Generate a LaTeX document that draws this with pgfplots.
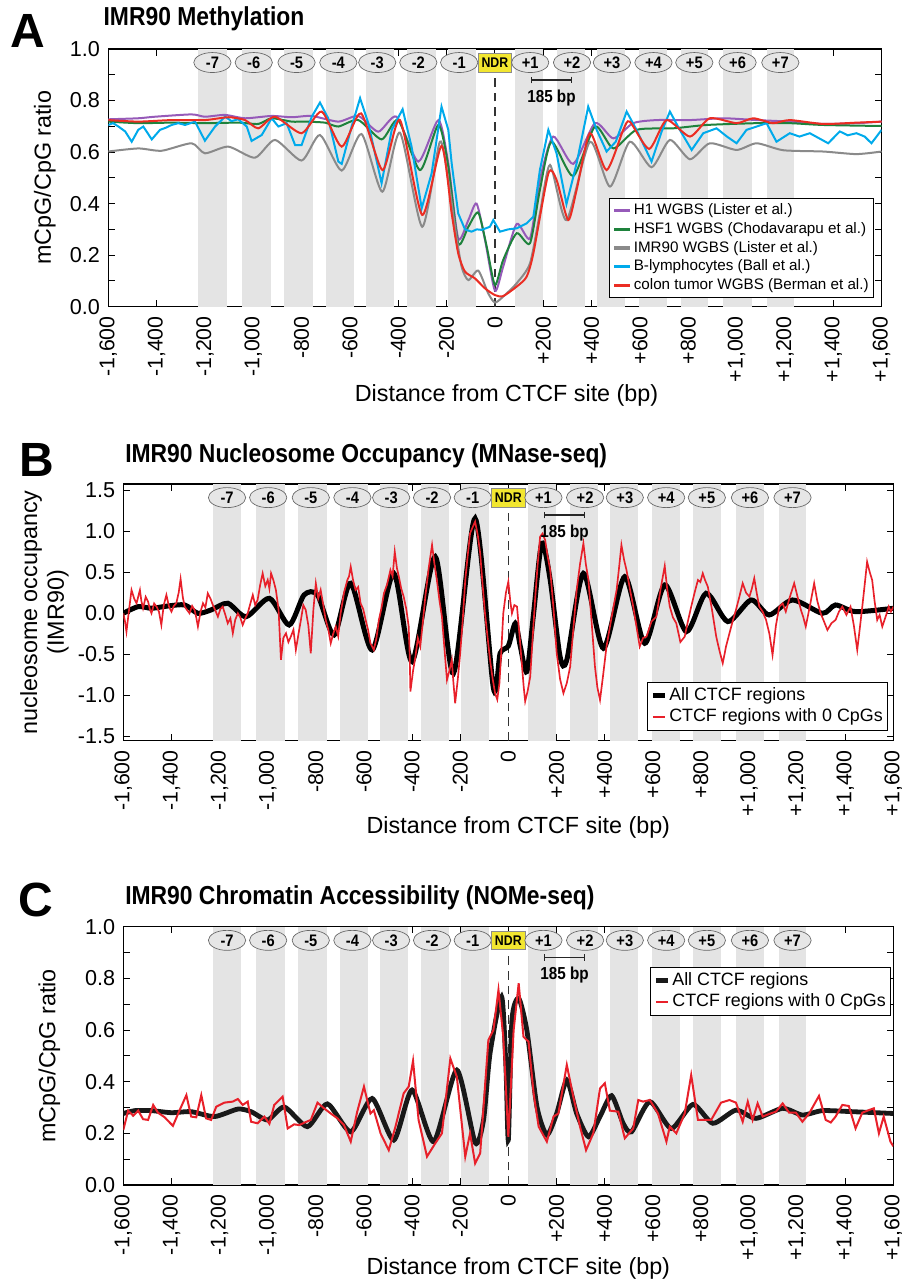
\documentclass[border=0pt]{standalone}
\usepackage{fontspec}
\setmainfont{Liberation Sans}
\newfontfamily\condfont[FakeStretch=0.88]{Liberation Sans}
\usepackage{pgfplots}
\pgfplotsset{compat=1.18}
\usetikzlibrary{shapes.geometric,arrows.meta}

\definecolor{cH}{HTML}{965AB9}
\definecolor{cG}{HTML}{1E823C}
\definecolor{cI}{HTML}{8A8A8A}
\definecolor{cB}{HTML}{00AAEB}
\definecolor{cR}{HTML}{EB2D23}
\definecolor{cR2}{HTML}{E8202A}
\definecolor{stripe}{HTML}{E4E4E4}
\definecolor{nucfill}{HTML}{E6E6E6}
\definecolor{ndry}{HTML}{F2E630}

\tikzset{
 nuc/.style={ellipse, draw=black!60, fill=nucfill, line width=0.5pt, minimum width=28pt, minimum height=15pt, inner sep=0pt, font=\condfont\bfseries\fontsize{12.5}{13}\selectfont},
 ndr/.style={rectangle, draw=black!45, fill=ndry, line width=0.5pt, minimum width=25pt, minimum height=14pt, inner sep=0pt, font=\condfont\bfseries\fontsize{10.5}{11}\selectfont},
}

\newcommand{\decor}{%
 \fill[stripe] (axis cs:-1227,\ymn) rectangle (axis cs:-1110,\ymx);
 \fill[stripe] (axis cs:-1048,\ymn) rectangle (axis cs:-928,\ymx);
 \fill[stripe] (axis cs:-873,\ymn) rectangle (axis cs:-754,\ymx);
 \fill[stripe] (axis cs:-699,\ymn) rectangle (axis cs:-582,\ymx);
 \fill[stripe] (axis cs:-534,\ymn) rectangle (axis cs:-416,\ymx);
 \fill[stripe] (axis cs:-363,\ymn) rectangle (axis cs:-245,\ymx);
 \fill[stripe] (axis cs:-196,\ymn) rectangle (axis cs:-79,\ymx);
 \fill[stripe] (axis cs:83,\ymn) rectangle (axis cs:200,\ymx);
 \fill[stripe] (axis cs:255,\ymn) rectangle (axis cs:372,\ymx);
 \fill[stripe] (axis cs:421,\ymn) rectangle (axis cs:538,\ymx);
 \fill[stripe] (axis cs:596,\ymn) rectangle (axis cs:713,\ymx);
 \fill[stripe] (axis cs:769,\ymn) rectangle (axis cs:883,\ymx);
 \fill[stripe] (axis cs:945,\ymn) rectangle (axis cs:1062,\ymx);
 \fill[stripe] (axis cs:1124,\ymn) rectangle (axis cs:1238,\ymx);
 \draw[dash pattern=on 6.5pt off 4.5pt, line width=0.9pt, black!80] (axis cs:0,\ymn) -- ([yshift=-22pt]axis cs:0,\ymx);
}
\newcommand{\decortop}{%
 \node[nuc] at ([yshift=-10.2pt]axis cs:-1169,\ymx) {-7};
 \node[nuc] at ([yshift=-10.2pt]axis cs:-998,\ymx) {-6};
 \node[nuc] at ([yshift=-10.2pt]axis cs:-821,\ymx) {-5};
 \node[nuc] at ([yshift=-10.2pt]axis cs:-648,\ymx) {-4};
 \node[nuc] at ([yshift=-10.2pt]axis cs:-487,\ymx) {-3};
 \node[nuc] at ([yshift=-10.2pt]axis cs:-317,\ymx) {-2};
 \node[nuc] at ([yshift=-10.2pt]axis cs:-148,\ymx) {-1};
 \node[ndr] at ([yshift=-10.2pt]axis cs:0,\ymx) {NDR};
 \node[nuc] at ([yshift=-10.2pt]axis cs:146,\ymx) {+1};
 \node[nuc] at ([yshift=-10.2pt]axis cs:319,\ymx) {+2};
 \node[nuc] at ([yshift=-10.2pt]axis cs:484,\ymx) {+3};
 \node[nuc] at ([yshift=-10.2pt]axis cs:656,\ymx) {+4};
 \node[nuc] at ([yshift=-10.2pt]axis cs:825,\ymx) {+5};
 \node[nuc] at ([yshift=-10.2pt]axis cs:1004,\ymx) {+6};
 \node[nuc] at ([yshift=-10.2pt]axis cs:1181,\ymx) {+7};
 \draw[{Bar[width=5pt]}-{Bar[width=5pt]}, line width=0.9pt, black!85] ([yshift=-23.3pt]axis cs:149,\ymx) -- ([yshift=-23.3pt]axis cs:318,\ymx);
 \node[font=\condfont\bfseries\fontsize{13}{14}\selectfont] at ([yshift=-36.5pt]axis cs:234,\ymx) {185 bp};
}

\pgfplotsset{
 myax/.style={
  scale only axis,
  xmin=-1600, xmax=1600,
  xtick={-1600,-1400,-1200,-1000,-800,-600,-400,-200,0,200,400,600,800,1000,1200,1400,1600},
  xticklabels={{-1,600},{-1,400},{-1,200},{-1,000},{-800},{-600},{-400},{-200},{0},{+200},{+400},{+600},{+800},{+1,000},{+1,200},{+1,400},{+1,600}},
  xticklabel style={rotate=90, anchor=east, inner sep=0pt, font=\fontsize{16}{18}\selectfont},
  xticklabel shift=7pt,
  yticklabel style={anchor=east, inner sep=0pt, font=\fontsize{16.2}{18}\selectfont},
  yticklabel shift=6pt,
  tick align=inside, tick pos=both,
  major tick length=5pt, minor tick length=5pt,
  every tick/.style={black, line width=0.7pt},
  axis line style={black, line width=0.9pt},
  xlabel={Distance from CTCF site (bp)},
  xlabel style={anchor=center, font=\fontsize{17.5}{20}\selectfont},
  ylabel style={anchor=center, font=\fontsize{17.5}{20}\selectfont, align=center},
  clip=true,
 },
 legA/.style={legend cell align=left,
  legend style={at={(0.990,0.034)}, anchor=south east, draw=black, line width=0.8pt, fill=white,
   font=\fontsize{11.4}{13}\selectfont, inner sep=2pt, row sep=0pt,
   nodes={inner sep=1.5pt, text height=8.5pt, text depth=2.5pt}},
  legend image code/.code={\draw[##1, line width=2.5pt] (0pt,0pt) -- (12pt,0pt);}},
 legBC/.style={legend cell align=left,
  legend style={draw=black, line width=0.8pt, fill=white,
   font=\fontsize{13.4}{15}\selectfont, inner sep=2pt, row sep=0pt,
   nodes={inner sep=1.5pt, text height=10pt, text depth=3pt}},
  legend image code/.code={\draw[##1] (0pt,0pt) -- (9pt,0pt);}},
}

\begin{document}
\begin{tikzpicture}
\useasboundingbox (0,0) rectangle (678pt,-962.25pt);

% ---------------- Panel A ----------------
\node[font=\bfseries\fontsize{36}{40}\selectfont] at (21pt,-23.5pt) {A};
\node[anchor=west, inner sep=0pt, font=\condfont\bfseries\fontsize{19.5}{22}\selectfont] at (77.5pt,-14.25pt) {IMR90 Methylation};
\def\ymn{0}\def\ymx{1}
\begin{axis}[myax, legA, at={(81.2pt,-230pt)}, anchor=south west, width=580pt, height=193.3pt,
 ymin=0, ymax=1, ytick={0,0.2,0.4,0.6,0.8,1.0}, yticklabels={0.0,0.2,0.4,0.6,0.8,1.0},
 minor ytick={0.1,0.3,0.5,0.7,0.9},
 ylabel={mCpG/CpG ratio}, ylabel style={at={(axis description cs:-0.082,0.5)}},
 xlabel style={at={(axis description cs:0.515,-0.345)}}]
\decor
\addplot[cH, line width=1.5pt, smooth, tension=0.4] coordinates {(-1600,0.727) (-1476,0.731) (-1407,0.737) (-1255,0.746) (-1200,0.737) (-1117,0.744) (-1034,0.731) (-924,0.740) (-841,0.735) (-758,0.740) (-648,0.718) (-565,0.740) (-483,0.679) (-407,0.737) (-317,0.563) (-234,0.724) (-193,0.556) (-152,0.265) (-110,0.336) (-76,0.400) (-41,0.259) (0,0.062) (34,0.155) (90,0.321) (145,0.265) (186,0.492) (241,0.660) (324,0.554) (414,0.712) (490,0.653) (572,0.712) (669,0.724) (807,0.724) (945,0.731) (1083,0.724) (1220,0.718) (1358,0.709) (1496,0.712) (1600,0.718)};
\addlegendentry{H1 WGBS (Lister et al.)}
\addplot[cG, line width=1.5pt, smooth, tension=0.4] coordinates {(-1600,0.718) (-1476,0.712) (-1338,0.714) (-1200,0.712) (-1062,0.714) (-979,0.709) (-924,0.731) (-841,0.718) (-786,0.718) (-703,0.714) (-648,0.699) (-565,0.724) (-469,0.649) (-400,0.724) (-310,0.530) (-234,0.705) (-193,0.543) (-152,0.246) (-110,0.310) (-69,0.365) (-34,0.233) (0,0.084) (34,0.181) (90,0.285) (145,0.246) (186,0.453) (234,0.640) (324,0.507) (414,0.699) (490,0.614) (586,0.686) (738,0.692) (876,0.705) (1083,0.712) (1220,0.712) (1358,0.705) (1600,0.701)};
\addlegendentry{HSF1 WGBS (Chodavarapu et al.)}
\addplot[cI, line width=1.5pt, smooth, tension=0.4] coordinates {(-1600,0.602) (-1476,0.614) (-1379,0.605) (-1255,0.634) (-1200,0.595) (-1103,0.621) (-993,0.578) (-910,0.647) (-800,0.567) (-724,0.666) (-634,0.528) (-552,0.670) (-466,0.446) (-393,0.675) (-301,0.310) (-228,0.640) (-193,0.492) (-165,0.310) (-138,0.155) (-110,0.103) (-69,0.140) (-28,0.052) (0,0.016) (34,0.039) (90,0.091) (145,0.168) (186,0.362) (228,0.550) (296,0.336) (393,0.640) (476,0.466) (558,0.640) (648,0.541) (724,0.647) (807,0.572) (889,0.634) (1000,0.608) (1083,0.634) (1193,0.607) (1358,0.602) (1496,0.592) (1600,0.602)};
\addlegendentry{IMR90 WGBS (Lister et al.)}
\addplot[cB, line width=1.5pt] coordinates {(-1600,0.705) (-1580,0.712) (-1558,0.699) (-1530,0.680) (-1503,0.640) (-1476,0.686) (-1455,0.699) (-1420,0.649) (-1386,0.686) (-1360,0.695) (-1338,0.705) (-1310,0.712) (-1282,0.705) (-1241,0.718) (-1200,0.644) (-1158,0.699) (-1117,0.737) (-1090,0.720) (-1062,0.727) (-1027,0.699) (-1007,0.643) (-985,0.655) (-965,0.666) (-924,0.731) (-896,0.699) (-862,0.712) (-827,0.627) (-800,0.627) (-758,0.737) (-724,0.792) (-690,0.731) (-648,0.563) (-634,0.554) (-593,0.699) (-558,0.809) (-524,0.712) (-469,0.479) (-427,0.686) (-382,0.766) (-345,0.621) (-303,0.382) (-262,0.517) (-221,0.776) (-193,0.686) (-179,0.556) (-152,0.362) (-124,0.300) (-97,0.291) (-75,0.300) (-55,0.298) (-21,0.310) (-7,0.336) (21,0.291) (55,0.300) (90,0.304) (131,0.323) (159,0.349) (186,0.530) (221,0.686) (255,0.595) (296,0.398) (338,0.556) (386,0.776) (421,0.686) (462,0.602) (500,0.640) (545,0.757) (586,0.686) (648,0.563) (690,0.680) (724,0.757) (765,0.686) (814,0.608) (862,0.673) (917,0.692) (960,0.660) (1000,0.634) (1041,0.686) (1083,0.699) (1124,0.712) (1165,0.640) (1220,0.673) (1260,0.660) (1303,0.673) (1379,0.634) (1427,0.680) (1460,0.665) (1496,0.673) (1530,0.660) (1558,0.634) (1600,0.686)};
\addlegendentry{B-lymphocytes (Ball et al.)}
\addplot[cR, line width=1.5pt, smooth, tension=0.4] coordinates {(-1600,0.724) (-1476,0.718) (-1338,0.724) (-1200,0.724) (-1103,0.735) (-1034,0.724) (-979,0.692) (-910,0.737) (-800,0.673) (-717,0.757) (-634,0.621) (-554,0.750) (-465,0.530) (-393,0.724) (-301,0.356) (-221,0.624) (-179,0.362) (-152,0.207) (-124,0.136) (-83,0.110) (-41,0.071) (0,0.045) (34,0.041) (90,0.078) (131,0.116) (159,0.207) (221,0.517) (255,0.492) (303,0.336) (338,0.453) (393,0.673) (462,0.530) (531,0.686) (558,0.718) (638,0.612) (710,0.724) (807,0.660) (889,0.731) (1000,0.712) (1069,0.731) (1151,0.712) (1220,0.724) (1358,0.709) (1496,0.714) (1600,0.718)};
\addlegendentry{colon tumor WGBS (Berman et al.)}
\decortop
\end{axis}

% ---------------- Panel B ----------------
\node[font=\bfseries\fontsize{36}{40}\selectfont] at (27.5pt,-345pt) {B};
\node[anchor=west, inner sep=0pt, font=\condfont\bfseries\fontsize{19.5}{22}\selectfont] at (93.75pt,-342pt) {IMR90 Nucleosome Occupancy (MNase-seq)};
\def\ymn{-1.55}\def\ymx{1.573}
\begin{axis}[myax, legBC, at={(92.5pt,-555.5pt)}, anchor=south west, width=577.5pt, height=192.5pt,
 ymin=-1.55, ymax=1.573, ytick={-1.5,-1,-0.5,0,0.5,1,1.5}, yticklabels={-1.5,-1.0,-0.5,0.0,0.5,1.0,1.5},
 ylabel={nucleosome occupancy\\(IMR90)}, ylabel style={at={(axis description cs:-0.1025,0.5)}},
 xlabel style={at={(axis description cs:0.513,-0.34)}},
 legend style={at={(0.993,0.038)}, anchor=south east}]
\decor
\addplot[black, line width=3.75pt, smooth, tension=0.45] coordinates {(-1600,0) (-1538,0.081) (-1483,0.061) (-1414,0.089) (-1345,0.101) (-1290,0) (-1235,0.041) (-1166,0.122) (-1090,-0.041) (-993,0.182) (-911,-0.142) (-849,0.223) (-793,0.223) (-724,-0.263) (-655,0.365) (-566,-0.446) (-476,0.486) (-400,-0.588) (-304,0.689) (-228,-0.730) (-138,1.155) (-62,-0.912) (-34,-0.486) (0,-0.397) (29,-0.122) (50,-0.405) (77,-0.709) (105,0) (139,0.851) (174,0.405) (215,-0.527) (243,-0.567) (312,0.486) (395,-0.426) (484,0.446) (567,-0.365) (650,0.345) (740,-0.223) (822,0.243) (912,-0.101) (1009,0.162) (1084,-0.020) (1181,0.162) (1305,0) (1360,0.101) (1443,0.020) (1600,0.061)};
\addlegendentry{All CTCF regions}
\addplot[cR2, line width=1.25pt] coordinates {(-1600,0) (-1593,-0.10) (-1587,-0.223) (-1576,0.05) (-1566,0.284) (-1555,0.18) (-1545,0.122) (-1531,0.284) (-1525,0.15) (-1518,0.061) (-1507,0.20) (-1497,0.142) (-1490,0.05) (-1483,0) (-1472,0.12) (-1462,0.081) (-1452,0.02) (-1442,-0.142) (-1432,0.10) (-1421,0.223) (-1410,0.08) (-1400,0.020) (-1390,0.09) (-1380,0.122) (-1370,0.25) (-1362,0.418) (-1353,0.20) (-1345,0.081) (-1335,0.04) (-1325,0) (-1314,0.09) (-1304,0.041) (-1297,-0.05) (-1290,-0.162) (-1279,0.02) (-1269,0.122) (-1259,0.07) (-1249,0.243) (-1238,0.18) (-1228,0.101) (-1217,0.03) (-1207,-0.041) (-1197,0.05) (-1187,0.081) (-1176,-0.02) (-1166,-0.122) (-1155,-0.06) (-1145,-0.243) (-1135,-0.08) (-1124,0) (-1114,-0.05) (-1104,-0.142) (-1093,-0.06) (-1083,0) (-1072,0.12) (-1062,0.223) (-1052,0.10) (-1042,0.162) (-1031,0.35) (-1021,0.486) (-1010,0.33) (-1000,0.405) (-993,0.30) (-986,0.486) (-976,0.40) (-966,0.284) (-955,0.05) (-945,-0.567) (-935,-0.30) (-924,-0.243) (-914,-0.35) (-904,-0.284) (-893,-0.20) (-883,-0.446) (-872,-0.25) (-862,-0.081) (-852,0.10) (-842,0.041) (-831,-0.15) (-821,-0.486) (-810,0.05) (-800,0.365) (-790,0.18) (-780,0.284) (-769,0.10) (-759,-0.081) (-748,-0.20) (-738,-0.365) (-728,-0.25) (-717,-0.162) (-707,-0.28) (-697,0) (-683,0.25) (-669,0.405) (-662,0.45) (-655,0.567) (-645,0.40) (-635,0.284) (-624,0.32) (-614,0.122) (-603,0.05) (-593,-0.081) (-583,-0.20) (-573,-0.365) (-559,-0.446) (-548,-0.30) (-538,-0.081) (-528,0.05) (-517,0.243) (-504,0.35) (-490,0.527) (-481,0.45) (-472,0.750) (-463,0.55) (-455,0.446) (-445,0.30) (-435,0.203) (-424,0.05) (-414,-0.162) (-410,-0.50) (-407,-0.952) (-396,-0.70) (-386,-0.527) (-376,-0.30) (-366,-0.405) (-355,-0.10) (-345,0.203) (-331,0.55) (-317,0.831) (-307,0.60) (-297,0.405) (-286,0.15) (-276,-0.041) (-265,-0.45) (-255,-0.811) (-245,-0.70) (-235,-0.567) (-228,-0.85) (-221,-1.095) (-210,-0.80) (-200,-0.486) (-190,-0.10) (-179,0.405) (-169,0.70) (-159,0.973) (-148,1.05) (-138,1.115) (-127,0.95) (-117,0.730) (-107,0.35) (-97,0) (-86,-0.30) (-76,-0.567) (-65,-0.80) (-55,-0.973) (-46,-1.05) (-37,-0.851) (-29,-0.45) (-21,0) (-10,0.25) (0,0.385) (8,0.15) (15,0) (25,0.10) (36,0.081) (46,-0.25) (57,-0.649) (64,-0.90) (70,-1.071) (80,-0.95) (91,-0.770) (101,-0.30) (112,0.203) (122,0.60) (132,0.932) (142,0.97) (153,0.892) (163,0.70) (174,0.527) (188,0.05) (201,-0.486) (215,-0.80) (229,-0.973) (243,-0.85) (257,-0.649) (270,-0.20) (284,0.284) (298,0.60) (312,0.851) (322,0.60) (333,0.405) (346,-0.10) (360,-0.649) (370,-0.90) (381,-1.054) (394,-0.75) (408,-0.405) (429,-0.05) (450,0.284) (460,0.55) (470,0.831) (481,0.65) (491,0.527) (505,0.30) (519,0.081) (532,-0.15) (546,-0.405) (560,-0.30) (574,-0.284) (595,-0.10) (615,-0.041) (633,0.30) (650,0.576) (660,0.30) (671,0.081) (684,-0.05) (698,-0.122) (715,-0.35) (733,-0.284) (746,-0.10) (760,0.081) (774,0.25) (788,0.405) (798,0.38) (808,0.486) (818,0.40) (829,0.324) (846,0.05) (864,-0.284) (877,-0.45) (891,-0.608) (905,-0.40) (919,-0.243) (932,-0.10) (946,0.041) (960,0.20) (974,0.365) (988,0.25) (1002,0.203) (1012,0.30) (1022,0.426) (1032,0.25) (1043,0.081) (1057,0.02) (1071,-0.081) (1085,-0.25) (1098,-0.507) (1112,-0.15) (1126,0.081) (1140,0.12) (1153,0.020) (1170,0.20) (1188,0.365) (1202,0.20) (1216,0.041) (1226,-0.05) (1236,-0.162) (1254,0.10) (1271,0.365) (1284,0.15) (1298,0) (1312,-0.10) (1326,-0.203) (1343,-0.12) (1360,-0.081) (1374,0.02) (1388,0.081) (1405,-0.02) (1422,0.081) (1436,-0.15) (1450,-0.446) (1460,-0.20) (1471,0.081) (1481,0.35) (1491,0.628) (1502,0.50) (1512,0.405) (1522,0.15) (1533,-0.081) (1543,-0.02) (1554,-0.162) (1567,-0.05) (1581,0.081) (1590,0.02) (1600,0.081)};
\addlegendentry{CTCF regions with 0 CpGs}
\decortop
\end{axis}

% ---------------- Panel C ----------------
\node[font=\bfseries\fontsize{36}{40}\selectfont] at (27pt,-675pt) {C};
\node[anchor=west, inner sep=0pt, font=\condfont\bfseries\fontsize{19.5}{22}\selectfont] at (93.75pt,-673.5pt) {IMR90 Chromatin Accessibility (NOMe-seq)};
\def\ymn{0}\def\ymx{1}
\begin{axis}[myax, legBC, at={(92.5pt,-888.75pt)}, anchor=south west, width=577.5pt, height=193.7pt,
 ymin=0, ymax=1, ytick={0,0.2,0.4,0.6,0.8,1.0}, yticklabels={0.0,0.2,0.4,0.6,0.8,1.0},
 minor ytick={0.1,0.3,0.5,0.7,0.9},
 ylabel={mCpG/CpG ratio}, ylabel style={at={(axis description cs:-0.096,0.5)}},
 xlabel style={at={(axis description cs:0.513,-0.325)}},
 legend style={at={(0.997,0.845)}, anchor=north east}]
\decor
\addplot[black!90, line width=3.6pt, smooth, tension=0.4] coordinates {(-1600,0.277) (-1552,0.288) (-1483,0.288) (-1400,0.280) (-1318,0.284) (-1221,0.265) (-1124,0.294) (-1069,0.284) (-1000,0.252) (-931,0.302) (-835,0.226) (-752,0.314) (-655,0.206) (-566,0.335) (-476,0.174) (-400,0.368) (-310,0.168) (-214,0.445) (-138,0.164) (-103,0.252) (-76,0.510) (-28,0.729) (-10,0.458) (0,0.174) (15,0.639) (43,0.723) (77,0.599) (119,0.303) (160,0.194) (201,0.277) (243,0.406) (284,0.277) (333,0.187) (381,0.265) (429,0.346) (477,0.239) (512,0.206) (588,0.323) (677,0.219) (767,0.312) (850,0.239) (946,0.290) (1029,0.258) (1140,0.297) (1222,0.271) (1305,0.288) (1429,0.284) (1600,0.277)};
\addlegendentry{All CTCF regions}
\addplot[cR2, line width=1.5pt] coordinates {(-1600,0.213) (-1580,0.288) (-1559,0.268) (-1538,0.288) (-1518,0.255) (-1497,0.252) (-1476,0.310) (-1456,0.280) (-1428,0.262) (-1394,0.229) (-1366,0.290) (-1338,0.348) (-1318,0.265) (-1297,0.262) (-1276,0.348) (-1256,0.258) (-1235,0.252) (-1214,0.303) (-1180,0.319) (-1145,0.323) (-1124,0.333) (-1104,0.310) (-1083,0.323) (-1069,0.245) (-1042,0.239) (-1014,0.265) (-993,0.237) (-973,0.310) (-938,0.342) (-917,0.219) (-890,0.235) (-869,0.232) (-849,0.241) (-821,0.252) (-793,0.319) (-766,0.297) (-738,0.277) (-710,0.258) (-683,0.232) (-655,0.168) (-628,0.284) (-600,0.381) (-573,0.277) (-559,0.290) (-531,0.200) (-497,0.135) (-469,0.226) (-435,0.355) (-414,0.381) (-396,0.481) (-373,0.252) (-338,0.110) (-304,0.161) (-276,0.200) (-241,0.490) (-214,0.419) (-179,0.110) (-159,0.200) (-138,0.084) (-117,0.123) (-83,0.561) (-62,0.600) (-41,0.755) (-21,0.574) (0,0.187) (22,0.600) (43,0.781) (63,0.574) (84,0.555) (105,0.355) (126,0.226) (160,0.168) (188,0.265) (208,0.277) (243,0.465) (270,0.342) (298,0.226) (323,0.135) (353,0.200) (381,0.374) (401,0.394) (422,0.288) (457,0.284) (484,0.181) (519,0.219) (540,0.329) (560,0.323) (588,0.329) (622,0.277) (657,0.168) (671,0.226) (698,0.200) (733,0.277) (760,0.426) (788,0.252) (815,0.252) (843,0.252) (884,0.319) (919,0.329) (946,0.319) (974,0.245) (995,0.323) (1015,0.252) (1036,0.316) (1057,0.265) (1084,0.275) (1112,0.284) (1140,0.316) (1167,0.280) (1195,0.280) (1222,0.245) (1250,0.277) (1291,0.345) (1319,0.252) (1340,0.242) (1360,0.265) (1388,0.310) (1415,0.306) (1443,0.219) (1471,0.280) (1498,0.290) (1519,0.297) (1540,0.200) (1560,0.265) (1588,0.168) (1600,0.150)};
\addlegendentry{CTCF regions with 0 CpGs}
\decortop
\end{axis}
\end{tikzpicture}
\end{document}
